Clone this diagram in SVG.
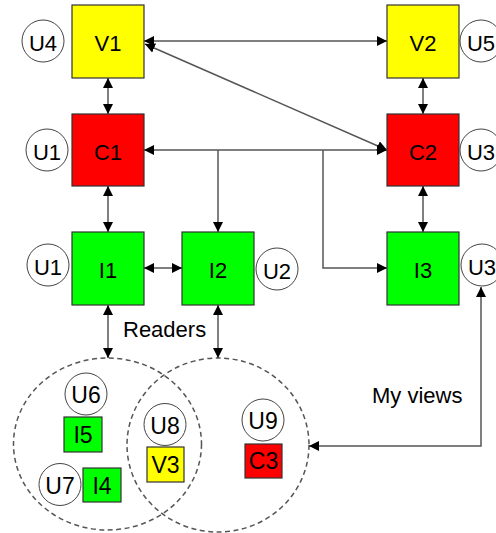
<svg xmlns="http://www.w3.org/2000/svg" width="496" height="533" viewBox="0 0 496 533">
  <defs>
    <marker id="arrow" viewBox="0 0 10 10" refX="10" refY="5" markerWidth="10" markerHeight="10" markerUnits="userSpaceOnUse" orient="auto-start-reverse">
      <path d="M0,0 L10,5 L0,10 z" fill="#000"/>
    </marker>
    <style>
      .box { stroke: #333; stroke-width: 1.2; }
      .v { fill: #ffff00; }
      .c { fill: #ff0000; }
      .i { fill: #00ff00; }
      .user { fill: #fff; stroke: #444; stroke-width: 1; }
      .group { fill: none; stroke: #555; stroke-width: 1.5; stroke-dasharray: 5 3.5; }
      .link { fill: none; stroke: #555; stroke-width: 1.5; }
      .both { marker-start: url(#arrow); marker-end: url(#arrow); }
      .end { marker-end: url(#arrow); }
      text { font-family: "Liberation Sans", Arial, sans-serif; font-size: 22px; fill: #000; text-anchor: middle; }
      .small { font-size: 23px; }
      .label { text-anchor: start; }
    </style>
  </defs>

  <!-- reader groups -->
  <g id="groups">
    <ellipse class="group" cx="107.5" cy="444" rx="94" ry="86"/>
    <ellipse class="group" cx="218" cy="445" rx="91" ry="87"/>
  </g>

  <!-- connectors -->
  <g id="connectors">
    <line class="link both" x1="144" y1="41" x2="387" y2="41"/>
    <line class="link both" x1="145" y1="44" x2="387" y2="150"/>
    <line class="link both" x1="108" y1="78" x2="108" y2="114"/>
    <line class="link both" x1="423" y1="78" x2="423" y2="114"/>
    <line class="link both" x1="144" y1="150" x2="387" y2="150"/>
    <line class="link end" x1="218" y1="150" x2="218" y2="232"/>
    <polyline class="link end" points="323,150 323,268 387,268"/>
    <line class="link both" x1="108" y1="186" x2="108" y2="232"/>
    <line class="link both" x1="423" y1="186" x2="423" y2="232"/>
    <line class="link both" x1="144" y1="268" x2="182" y2="268"/>
    <line class="link both" x1="108" y1="305" x2="108" y2="358"/>
    <line class="link both" x1="218" y1="305" x2="218" y2="358"/>
    <polyline class="link both" points="481,287 481,446 309,446"/>
  </g>

  <g id="V1"><rect class="box v" x="72" y="5" width="72" height="73"/><text x="108" y="51">V1</text></g>
  <g id="V2"><rect class="box v" x="387" y="5" width="72" height="73"/><text x="423" y="51">V2</text></g>
  <g id="C1"><rect class="box c" x="72" y="114" width="72" height="72"/><text x="108" y="160">C1</text></g>
  <g id="C2"><rect class="box c" x="387" y="114" width="72" height="72"/><text x="423" y="160">C2</text></g>
  <g id="I1"><rect class="box i" x="72" y="232" width="72" height="73"/><text x="108" y="278">I1</text></g>
  <g id="I2"><rect class="box i" x="182" y="232" width="72" height="73"/><text x="218" y="278">I2</text></g>
  <g id="I3"><rect class="box i" x="387" y="232" width="72" height="73"/><text x="423" y="278">I3</text></g>

  <g id="U4"><circle class="user" cx="43" cy="41" r="21"/><text x="43" y="51">U4</text></g>
  <g id="U5"><circle class="user" cx="481" cy="41" r="21"/><text x="481" y="51">U5</text></g>
  <g id="U1a"><circle class="user" cx="47" cy="150" r="21"/><text x="47" y="160">U1</text></g>
  <g id="U3a"><circle class="user" cx="481" cy="150" r="21"/><text x="481" y="160">U3</text></g>
  <g id="U1b"><circle class="user" cx="48" cy="265" r="21"/><text x="48" y="275">U1</text></g>
  <g id="U2"><circle class="user" cx="277" cy="269" r="21"/><text x="277" y="279">U2</text></g>
  <g id="U3b"><circle class="user" cx="482" cy="265" r="21"/><text x="482" y="275">U3</text></g>

  <g id="U6"><circle class="user" cx="86" cy="394" r="21"/><text class="small" x="86" y="403">U6</text></g>
  <g id="I5"><rect class="box i" x="64" y="417" width="38" height="35"/><text class="small" x="83" y="443">I5</text></g>
  <g id="U7"><circle class="user" cx="60" cy="484.5" r="21"/><text class="small" x="60" y="494">U7</text></g>
  <g id="I4"><rect class="box i" x="83" y="468" width="38" height="34"/><text class="small" x="102" y="494">I4</text></g>
  <g id="U8"><circle class="user" cx="165" cy="424.5" r="21"/><text class="small" x="165" y="434">U8</text></g>
  <g id="V3"><rect class="box v" x="147" y="447" width="37" height="35"/><text class="small" x="165.5" y="473">V3</text></g>
  <g id="U9"><circle class="user" cx="263" cy="420" r="21"/><text class="small" x="263" y="429">U9</text></g>
  <g id="C3"><rect class="box c" x="245" y="444" width="37" height="34"/><text class="small" x="263.5" y="469">C3</text></g>

  <g id="labels">
    <text class="label" x="123" y="337">Readers</text>
    <text class="label" x="372" y="403">My views</text>
  </g>
</svg>
